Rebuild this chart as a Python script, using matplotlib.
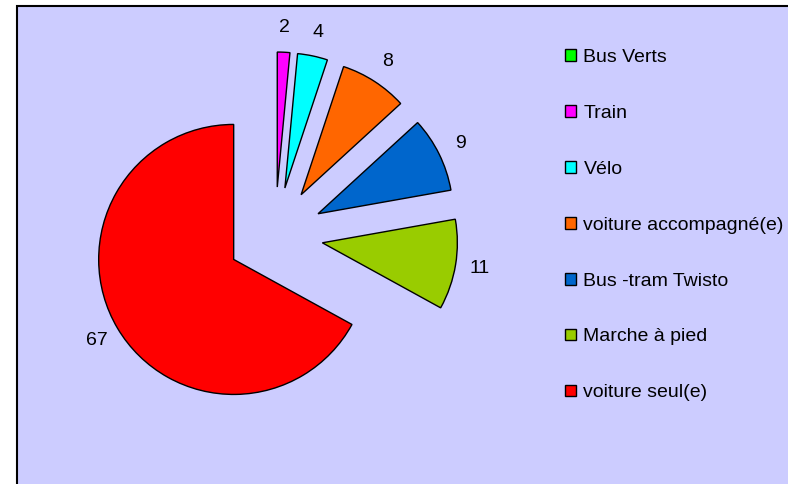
import matplotlib
matplotlib.use("Agg")
import matplotlib.pyplot as plt
from matplotlib.patches import Rectangle, Patch

plt.rcParams['font.family'] = ['Liberation Sans', 'DejaVu Sans']

# Données du camembert (pourcentages estimés, étiquettes arrondies)
categories = ['Bus Verts', 'Train', 'Vélo', 'voiture accompagné(e)',
              'Bus -tram Twisto', 'Marche à pied', 'voiture seul(e)']
valeurs = [0, 1.5, 3.6, 8.1, 9.0, 10.8, 67.0]
couleurs = ['#00FF00', '#FF00FF', '#00FFFF', '#FF6600',
            '#0066CC', '#99CC00', '#FF0000']

W, H = 788, 484
fig = plt.figure(figsize=(W / 100, H / 100), dpi=100)
ax = fig.add_axes([0, 0, 1, 1])

# fond de la zone de graphique
ax.add_patch(Rectangle((17, -20), 900, H - 6 + 20, facecolor='#CCCCFF',
                       edgecolor='black', linewidth=1.5, zorder=0))

# on ne dessine que les parts non nulles
vals = [v for v in valeurs if v > 0]
cols = [c for v, c in zip(valeurs, couleurs) if v > 0]
etiq = [f"{v:.0f}" for v in vals]

wedges, texts = ax.pie(vals, colors=cols, labels=etiq, startangle=90,
                       counterclock=False, explode=[48] * len(vals),
                       center=(275, H - 235), radius=135, labeldistance=1.18,
                       wedgeprops=dict(edgecolor='black', linewidth=1),
                       textprops=dict(fontsize=14, color='black'))
for t in texts:
    t.set_horizontalalignment('center')
    t.set_verticalalignment('center')

ax.set_xlim(0, W)
ax.set_ylim(0, H)
ax.set_aspect('equal')
ax.axis('off')

handles = [Patch(facecolor=c, edgecolor='black', linewidth=1) for c in couleurs]
ax.legend(handles, categories, loc='upper left', bbox_to_anchor=(565 / W, 1 - 49 / H),
          frameon=False, fontsize=14, handlelength=0.55, handleheight=0.55,
          handletextpad=0.4, labelspacing=2.0, borderpad=0, borderaxespad=0)

fig.savefig('out.png', dpi=100)
